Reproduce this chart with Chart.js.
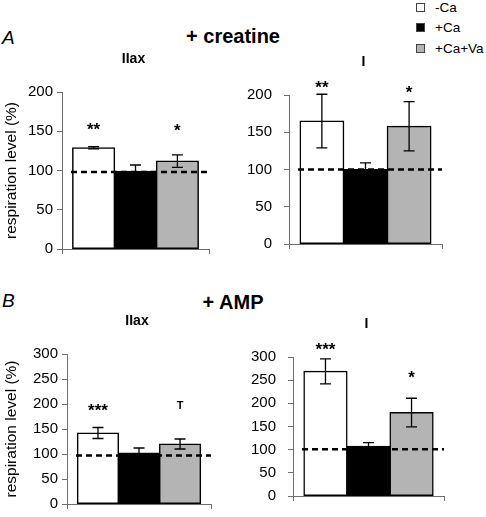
<!DOCTYPE html>
<html><head><meta charset="utf-8">
<script src="https://cdn.jsdelivr.net/npm/chart.js@4.4.1/dist/chart.umd.min.js"></script>
<style>
html,body{margin:0;padding:0;background:#fff;}
#wrap{position:relative;width:486px;height:517px;overflow:hidden;font-family:'Liberation Sans',Arial,sans-serif;color:#000;}
canvas{position:absolute;}
.lbl{position:absolute;white-space:nowrap;line-height:1;}
.leg{position:absolute;left:416px;font-size:13.5px;line-height:1;white-space:nowrap;}
.leg span.sw{position:absolute;left:0;width:7px;height:7px;border:1px solid #444;}
.leg span.tx{position:absolute;left:19px;}
</style></head><body>
<div id="wrap"></div>
<script>
// ---- data ----
const conditions = ['-Ca', '+Ca', '+Ca+Va'];
const panelGroups = ['+ creatine', '+ AMP'];
const panelLetters = ['A', 'B'];
const panelCategories = ['IIax', 'I', 'IIax', 'I'];

const creatineIIaxMean = [129, 99, 112];
const creatineIIaxErr  = [1.5, 8, 8];
const creatineIIaxSig  = ['**', '', '*'];
const creatineIMean    = [165, 100, 158];
const creatineIErr     = [36, 9, 33];
const creatineISig     = ['**', '', '*'];
const ampIIaxMean      = [142, 102, 120];
const ampIIaxErr       = [11, 10, 10];
const ampIIaxSig       = ['***', '', 'T'];
const ampIMean         = [269, 107, 180];
const ampIErr          = [27, 8, 31];
const ampISig          = ['***', '', '*'];

const sigLevels = [[156, 0, 155], [214, 0, 207], [194, 0, 196], [322, 0, 262]];
const controlLevels = [98, 100, 97, 101];
const yTickMax = [200, 200, 300, 300];
const yTickStep = 50;
const yTitle = 'respiration level (%)';

// ---- styles ----
const barColors = ['#ffffff', '#000000', '#b4b4b4'];
const FONT = "'Liberation Sans', Arial, sans-serif";
const axisColor = '#6e6e6e';

const panels = [
  {mean: creatineIIaxMean, err: creatineIIaxErr, sig: creatineIIaxSig,
   canvas: {L: 0, T: 40, W: 225, H: 225}, area: {l: 62, r: 209, t: 92, b: 249}, showTitle: true, tickPad: 4},
  {mean: creatineIMean, err: creatineIErr, sig: creatineISig,
   canvas: {L: 240, T: 40, W: 246, H: 225}, area: {l: 289, r: 442, t: 95, b: 249}, showTitle: false, tickPad: 12},
  {mean: ampIIaxMean, err: ampIIaxErr, sig: ampIIaxSig,
   canvas: {L: 0, T: 300, W: 225, H: 217}, area: {l: 67, r: 211, t: 354, b: 511}, showTitle: true, tickPad: 4},
  {mean: ampIMean, err: ampIErr, sig: ampISig,
   canvas: {L: 240, T: 300, W: 246, H: 217}, area: {l: 293, r: 444, t: 357, b: 512}, showTitle: false, tickPad: 12}
];

const wrap = document.getElementById('wrap');
const letterTops = [28, 291];
const groupTops = [26, 292];
panelLetters.forEach((t, i) => {
  const d = document.createElement('div');
  d.className = 'lbl'; d.textContent = t;
  d.style.cssText = `left:2px;top:${letterTops[i]}px;font-size:19px;font-style:italic;`;
  wrap.appendChild(d);
});
panelGroups.forEach((t, i) => {
  const d = document.createElement('div');
  d.className = 'lbl'; d.textContent = t;
  d.style.cssText = `left:233px;top:${groupTops[i]}px;font-size:20px;font-weight:bold;transform:translateX(-50%);`;
  wrap.appendChild(d);
});
const legTops = [1, 21, 42];
conditions.forEach((c, i) => {
  const d = document.createElement('div');
  d.className = 'leg';
  d.style.top = legTops[i] + 'px';
  d.innerHTML = `<span class="sw" style="background:${barColors[i]};top:2px"></span><span class="tx"></span>`;
  d.querySelector('.tx').textContent = c;
  wrap.appendChild(d);
});

const overlayPlugin = {
  id: 'overlay',
  afterDatasetsDraw(chart, args, opts) {
    const ctx = chart.ctx;
    const y = chart.scales.y;
    const ca = chart.chartArea;
    ctx.save();
    // control level dashed line
    const yc = y.getPixelForValue(opts.control);
    ctx.strokeStyle = '#000';
    ctx.lineWidth = 2.5;
    ctx.setLineDash([6, 4]);
    ctx.beginPath();
    ctx.moveTo(ca.left + 9, yc);
    ctx.lineTo(ca.right, yc);
    ctx.stroke();
    ctx.setLineDash([]);
    // error bars and significance marks
    ctx.lineWidth = 1.3;
    chart.data.datasets.forEach((ds, i) => {
      const bar = chart.getDatasetMeta(i).data[0];
      const v = ds.data[0], e = opts.err[i];
      const y1 = y.getPixelForValue(v + e), y2 = y.getPixelForValue(v - e);
      ctx.strokeStyle = '#000';
      ctx.beginPath();
      ctx.moveTo(bar.x, y1); ctx.lineTo(bar.x, y2);
      ctx.moveTo(bar.x - 5.5, y1); ctx.lineTo(bar.x + 5.5, y1);
      ctx.moveTo(bar.x - 5.5, y2); ctx.lineTo(bar.x + 5.5, y2);
      ctx.stroke();
      const s = opts.sig[i];
      if (s) {
        ctx.fillStyle = '#000';
        ctx.textAlign = 'center';
        ctx.textBaseline = 'middle';
        const isStar = s.indexOf('*') >= 0;
        ctx.font = isStar ? `bold 17px ${FONT}` : `bold 11px ${FONT}`;
        ctx.fillText(s, bar.x, y.getPixelForValue(opts.sigLevels[i]) + (isStar ? 4 : 0));
      }
    });
    // sub-panel title
    ctx.font = `bold 14px ${FONT}`;
    ctx.textAlign = 'center';
    ctx.textBaseline = 'middle';
    ctx.fillStyle = '#000';
    ctx.fillText(opts.title, (ca.left + ca.right) / 2 - 2, ca.top - 33);
    ctx.restore();
  }
};

panels.forEach((p, idx) => {
  const cv = document.createElement('canvas');
  cv.width = p.canvas.W; cv.height = p.canvas.H;
  cv.style.left = p.canvas.L + 'px';
  cv.style.top = p.canvas.T + 'px';
  cv.style.width = p.canvas.W + 'px';
  cv.style.height = p.canvas.H + 'px';
  wrap.appendChild(cv);
  const yW = p.area.l - p.canvas.L;
  const xH = p.canvas.T + p.canvas.H - p.area.b;
  new Chart(cv, {
    type: 'bar',
    data: {
      labels: [panelCategories[idx]],
      datasets: conditions.map((c, i) => ({
        label: c,
        data: [p.mean[i]],
        backgroundColor: barColors[i],
        borderColor: '#000',
        borderWidth: 1.5,
        borderSkipped: false,
        inflateAmount: 0.6,
        barPercentage: 1.0,
        categoryPercentage: 0.855
      }))
    },
    options: {
      responsive: false,
      animation: false,
      devicePixelRatio: 1,
      layout: {padding: {left: 0, right: p.canvas.L + p.canvas.W - p.area.r, top: p.area.t - p.canvas.T, bottom: 0}},
      plugins: {
        legend: {display: false},
        tooltip: {enabled: false},
        title: {display: false},
        overlay: {err: p.err, sig: p.sig, sigLevels: sigLevels[idx], control: controlLevels[idx], title: panelCategories[idx]}
      },
      scales: {
        x: {
          offset: true,
          grid: {display: true, offset: true, drawOnChartArea: false, drawTicks: true, tickLength: 5, color: axisColor, lineWidth: 1},
          border: {display: true, color: axisColor, width: 1},
          ticks: {display: false},
          afterFit: s => { s.height = xH; }
        },
        y: {
          min: 0, max: yTickMax[idx],
          grid: {display: true, drawOnChartArea: false, drawTicks: true, tickLength: 5, color: axisColor, lineWidth: 1},
          border: {display: true, color: axisColor, width: 1},
          ticks: {stepSize: yTickStep, color: '#000', padding: p.tickPad, font: {family: FONT, size: 15}},
          title: {display: p.showTitle, text: yTitle, color: '#000', font: {family: FONT, size: 15.5}, padding: {top: 2, bottom: 2}},
          afterFit: s => { s.width = yW; }
        }
      }
    },
    plugins: [overlayPlugin]
  });
});
</script>
</body></html>
